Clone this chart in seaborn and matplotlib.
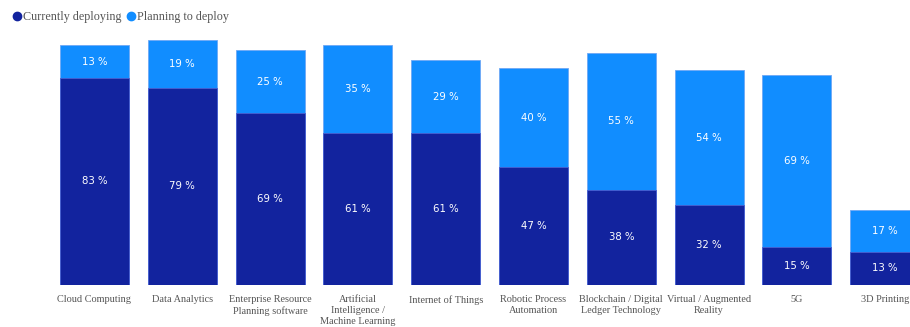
import matplotlib
matplotlib.use("Agg")
import matplotlib.pyplot as plt
import seaborn as sns
import pandas as pd
from matplotlib.lines import Line2D

categories = ["Cloud Computing", "Data Analytics", "Enterprise Resource\nPlanning software",
              "Artificial\nIntelligence /\nMachine Learning", "Internet of Things",
              "Robotic Process\nAutomation", "Blockchain / Digital\nLedger Technology",
              "Virtual / Augmented\nReality", "5G", "3D Printing"]
currently = [83, 79, 69, 61, 61, 47, 38, 32, 15, 13]
planning = [13, 19, 25, 35, 29, 40, 55, 54, 69, 17]

DARK = "#12239E"
LIGHT = "#118DFF"

sns.set_theme(style="white")
plt.rcParams['font.family'] = ['DejaVu Sans']

df = pd.DataFrame({"cat": categories, "cur": currently, "plan": planning})
df["total"] = df["cur"] + df["plan"]

fig = plt.figure(figsize=(9.1, 3.27), dpi=100)
W, H = 910, 327
base_px = 284.5
top_px = 35
ax = fig.add_axes([0, 1 - base_px / H, 1, (base_px - top_px) / H])

sns.barplot(data=df, x="cat", y="total", color=LIGHT, saturation=1, width=0.786,
            edgecolor="#6fa8f5", linewidth=0.6, ax=ax)
sns.barplot(data=df, x="cat", y="cur", color=DARK, saturation=1, width=0.786,
            edgecolor="#4a5fd0", linewidth=0.6, ax=ax)

ppu = 2.49
ax.set_ylim(0, (base_px - top_px) / ppu)
spacing = 87.8
x0 = 94.5
ax.set_xlim(-x0 / spacing, (W - x0) / spacing)

for i, (c, p) in enumerate(zip(currently, planning)):
    ax.text(i, c / 2, f"{c} %", ha="center", va="center", color="white", fontsize=7.3)
    ax.text(i, c + p / 2, f"{p} %", ha="center", va="center", color="white", fontsize=7.3)

ax.set_xlabel("")
ax.set_ylabel("")
ax.set_yticks([])
ax.set_xticks(range(len(categories)))
ax.set_xticklabels(categories, fontfamily="Liberation Serif", fontsize=7.4, color="#555555",
                   linespacing=1.3)
ax.tick_params(axis="x", length=0, pad=7.5)
for s in ax.spines.values():
    s.set_visible(False)

handles = [Line2D([], [], marker="o", linestyle="", color=DARK, markersize=6),
           Line2D([], [], marker="o", linestyle="", color=LIGHT, markersize=6)]
fig.legend(handles, ["Currently deploying", "Planning to deploy"], loc="upper left",
           bbox_to_anchor=(0.0, 1.0), ncol=2, frameon=False, handletextpad=0.0,
           columnspacing=0.3, handlelength=1.0,
           prop={"family": "Liberation Serif", "size": 8.7}, labelcolor="#555555")

fig.savefig("out.png", dpi=100)
